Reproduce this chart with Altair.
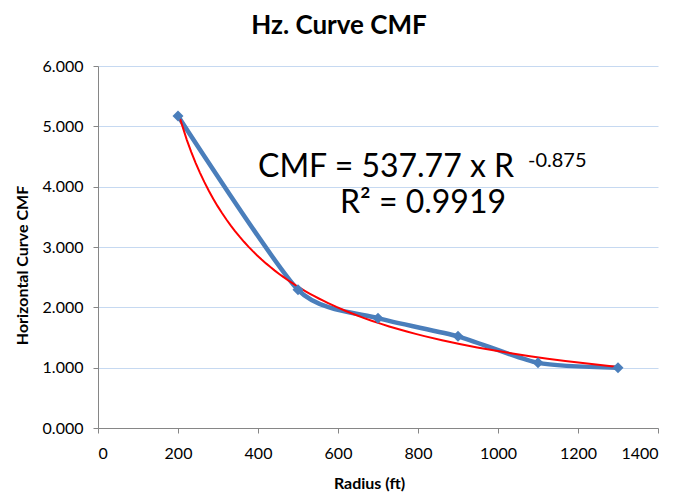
import altair as alt
import pandas as pd

radius = [200, 500, 700, 900, 1100, 1300]
cmf = [5.17, 2.29, 1.82, 1.52, 1.08, 1.00]

eq_main_text = ["CMF = 537.77 x R"]
eq_exp_text = ["-0.875"]
eq_r2_text = ["R² = 0.9919"]

df = pd.DataFrame({"radius": radius, "cmf": cmf})

FONT = "Lato"
BLUE = "#4A7EBB"

x_enc = alt.X("radius:Q", scale=alt.Scale(domain=[0, 1400]),
              axis=alt.Axis(title="Radius (ft)", values=list(range(0, 1401, 200)),
                            grid=False, format="d", titleX=271))
y_enc = alt.Y("cmf:Q", scale=alt.Scale(domain=[0, 6]),
              axis=alt.Axis(title="Horizontal Curve CMF", values=[0, 1, 2, 3, 4, 5, 6],
                            format=".3f", grid=True, titleY=199))

base = alt.Chart(df)

blue_line = base.mark_line(color=BLUE, strokeWidth=4.5, interpolate="cardinal", tension=0.35).encode(
    x=x_enc, y=y_enc)
blue_pts = base.mark_point(shape="diamond", filled=True, color=BLUE, size=120, opacity=1).encode(
    x="radius:Q", y="cmf:Q")

trend = base.transform_regression("radius", "cmf", method="pow", extent=[200, 1300]).mark_line(
    color="#FF0000", strokeWidth=2).encode(x="radius:Q", y="cmf:Q")

eq_main = alt.Chart(pd.DataFrame({"t": eq_main_text})).mark_text(
    font=FONT, fontSize=32, align="left", baseline="alphabetic", color="black").encode(
    x=alt.value(160), y=alt.value(111), text="t:N")
eq_sup = alt.Chart(pd.DataFrame({"t": eq_exp_text})).mark_text(
    font=FONT, fontSize=20, align="left", baseline="alphabetic", color="black").encode(
    x=alt.value(430), y=alt.value(101), text="t:N")
eq_r2 = alt.Chart(pd.DataFrame({"t": eq_r2_text})).mark_text(
    font=FONT, fontSize=32, align="center", baseline="alphabetic", color="black").encode(
    x=alt.value(325), y=alt.value(147), text="t:N")

chart = alt.layer(blue_line, trend, blue_pts, eq_main, eq_sup, eq_r2).properties(
    width=560, height=362,
    autosize=alt.AutoSizeParams(type="none"),
    padding={"left": 90, "top": 58, "right": 20, "bottom": 64},
    title=alt.TitleParams("Hz. Curve CMF", font=FONT, fontSize=26, fontWeight="bold",
                          anchor="middle", dx=-39, offset=19, color="black"),
).configure_view(stroke=None).configure_axis(
    labelFont=FONT, labelFontSize=16, labelColor="black",
    titleFont=FONT, titleFontSize=16, titleFontWeight="bold", titleColor="black",
    domainColor="#868686", tickColor="#868686", tickSize=5, domainWidth=1,
    gridColor="#C6D9F1", gridWidth=1,
).configure_axisY(titlePadding=12, labelPadding=10).configure_axisX(titlePadding=14, labelPadding=12)

chart.save("out.html", embed_options={"renderer": "svg", "actions": False})
